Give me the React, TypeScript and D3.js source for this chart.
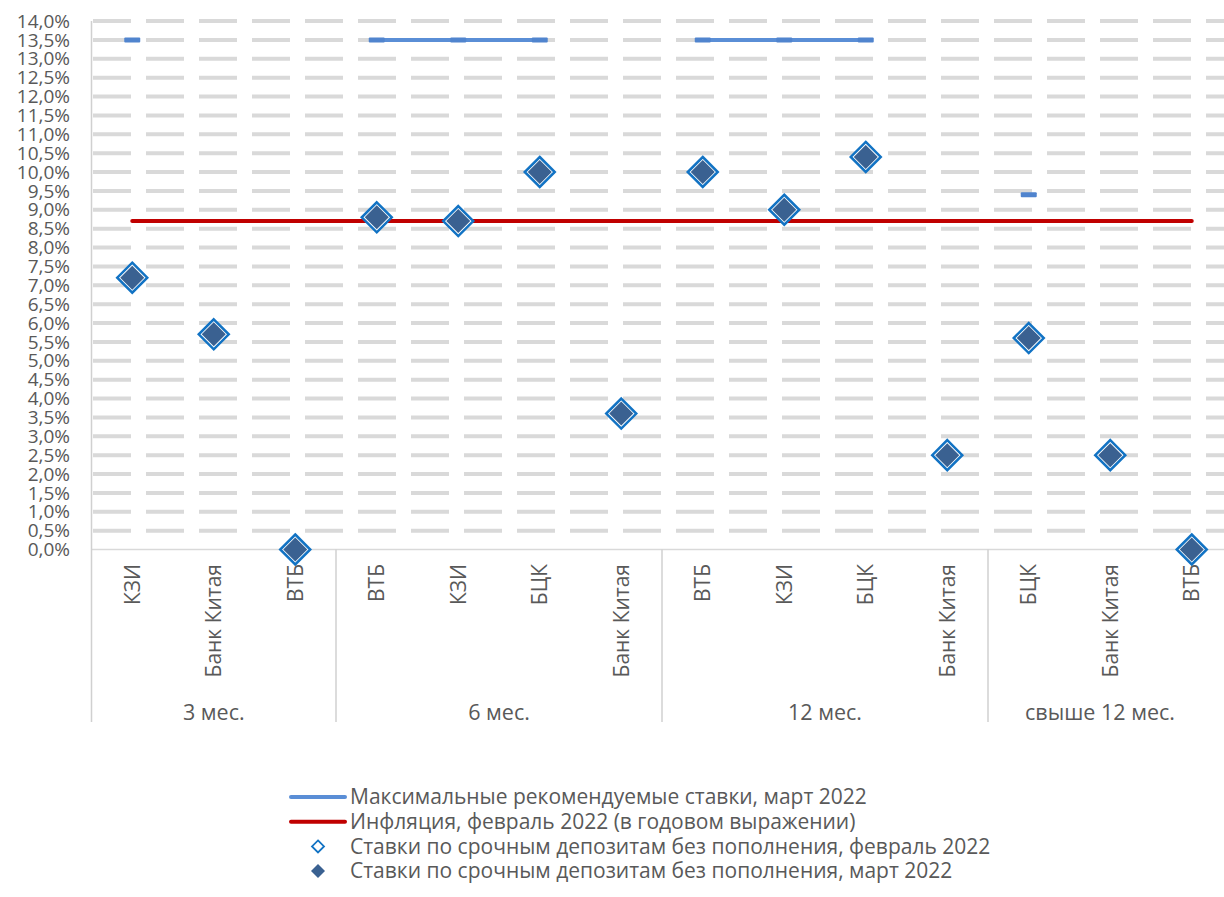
import { useEffect, useRef } from 'react';
import * as d3 from 'd3';

// terms (outer axis level)
const terms = ['3 мес.', '6 мес.', '12 мес.', 'свыше 12 мес.'];
const termSizes = [3, 4, 4, 3];

// banks (inner axis level), in chart order
const banks = [
  'КЗИ', 'Банк Китая', 'ВТБ',
  'ВТБ', 'КЗИ', 'БЦК', 'Банк Китая',
  'ВТБ', 'КЗИ', 'БЦК', 'Банк Китая',
  'БЦК', 'Банк Китая', 'ВТБ',
];

// series, %
const maxRates: (number | null)[] = [13.5, null, null, 13.5, 13.5, 13.5, null, 13.5, 13.5, 13.5, null, 9.4, null, null];
const inflation = [8.7, 8.7, 8.7, 8.7, 8.7, 8.7, 8.7, 8.7, 8.7, 8.7, 8.7, 8.7, 8.7, 8.7];
const febRates = [7.2, 5.7, 0, 8.8, 8.7, 10.0, 3.6, 10.0, 9.0, 10.4, 2.5, 5.6, 2.5, 0];
const marRates = [7.2, 5.7, 0, 8.8, 8.7, 10.0, 3.6, 10.0, 9.0, 10.4, 2.5, 5.6, 2.5, 0];

const yTicks = d3.range(0, 14.01, 0.5);

const legendItems = [
  { label: 'Максимальные рекомендуемые ставки, март 2022', kind: 'maxline' },
  { label: 'Инфляция, февраль 2022 (в годовом выражении)', kind: 'inflline' },
  { label: 'Ставки по срочным депозитам без пополнения, февраль 2022', kind: 'feb' },
  { label: 'Ставки по срочным депозитам без пополнения, март 2022', kind: 'mar' },
];

const W = 1224;
const H = 897;
const FONT = '"Open Sans", "Noto Sans", sans-serif';
const TEXT = '#595959';
const BLUE_LINE = '#5A8ED6';
const BLUE_MARK = '#5084CE';
const RED = '#C00000';
const DIAMOND_OUT = '#1273C4';
const DIAMOND_IN = '#3A6191';

const diamond = (cx: number, cy: number, r: number) =>
  `M${cx},${cy - r}L${cx + r},${cy}L${cx},${cy + r}L${cx - r},${cy}Z`;

const App = () => {
  const svgRef = useRef<SVGSVGElement>(null);

  useEffect(() => {
    if (!svgRef.current) return;
    const svg = d3.select(svgRef.current);
    svg.selectAll('*').remove();

    const idx = banks.map((_, i) => i);
    const x = d3.scaleBand<number>().domain(idx).range([91.5, 1232.5]);
    const cx = (i: number) => (x(i) as number) + x.bandwidth() / 2;
    const y = d3.scaleLinear().domain([0, 14]).range([549.5, 21]);
    const axisBottom = 722;

    // gridlines
    svg.append('g')
      .selectAll('line')
      .data(yTicks.filter(t => t > 0))
      .enter()
      .append('line')
      .attr('x1', 93)
      .attr('x2', W)
      .attr('y1', d => y(d))
      .attr('y2', d => y(d))
      .attr('stroke', '#D9D9D9')
      .attr('stroke-width', 4)
      .attr('stroke-dasharray', '38 15');

    // x axis baseline
    svg.append('line')
      .attr('x1', 91.5).attr('x2', W)
      .attr('y1', y(0)).attr('y2', y(0))
      .attr('stroke', '#D9D9D9').attr('stroke-width', 1.5);

    // group dividers (incl. left axis)
    const bounds = [0];
    termSizes.forEach((s, i) => bounds.push(bounds[i] + s));
    svg.append('g')
      .selectAll('line')
      .data(bounds.slice(0, -1))
      .enter()
      .append('line')
      .attr('x1', d => x(d) as number)
      .attr('x2', d => x(d) as number)
      .attr('y1', d => (d === 0 ? y(14) : y(0)))
      .attr('y2', axisBottom)
      .attr('stroke', '#D0D0D0')
      .attr('stroke-width', 1.5);

    // y tick labels
    svg.append('g')
      .selectAll('text')
      .data(yTicks)
      .enter()
      .append('text')
      .attr('x', 70)
      .attr('y', d => y(d))
      .attr('dy', '0.35em')
      .attr('text-anchor', 'end')
      .style('font-family', FONT)
      .style('font-size', '19px')
      .style('fill', TEXT)
      .text(d => d3.format('.1f')(d).replace('.', ',') + '%');

    // bank labels (rotated)
    svg.append('g')
      .selectAll('text')
      .data(banks)
      .enter()
      .append('text')
      .attr('transform', (_, i) => `translate(${cx(i)},564) rotate(-90)`)
      .attr('dy', '0.35em')
      .attr('text-anchor', 'end')
      .style('font-family', FONT)
      .style('font-size', '21px')
      .style('fill', TEXT)
      .text(d => d);

    // term labels (last group centred in the visible part)
    svg.append('g')
      .selectAll('text')
      .data(terms)
      .enter()
      .append('text')
      .attr('x', (_, i) => {
        const a = x(bounds[i]) as number;
        const b = i === terms.length - 1 ? W - 12 : (x(bounds[i + 1]) as number);
        return (a + b) / 2;
      })
      .attr('y', 712)
      .attr('dy', '0.35em')
      .attr('text-anchor', 'middle')
      .style('font-family', FONT)
      .style('font-size', '21.5px')
      .style('fill', TEXT)
      .text(d => d);

    // inflation line
    const line = d3.line<number>()
      .x((_, i) => cx(i))
      .y(d => y(d));
    svg.append('path')
      .attr('d', line(inflation))
      .attr('fill', 'none')
      .attr('stroke', RED)
      .attr('stroke-width', 4)
      .attr('stroke-linecap', 'round');

    // max recommended rates (line with gaps + dash markers)
    const gapLine = d3.line<number | null>()
      .defined(d => d !== null)
      .x((_, i) => cx(i))
      .y(d => y(d as number));
    svg.append('path')
      .attr('d', gapLine(maxRates))
      .attr('fill', 'none')
      .attr('stroke', BLUE_LINE)
      .attr('stroke-width', 4);
    svg.append('g')
      .selectAll('rect')
      .data(maxRates.map((v, i) => ({ v, i })).filter(d => d.v !== null))
      .enter()
      .append('rect')
      .attr('x', d => cx(d.i) - 8)
      .attr('y', d => y(d.v as number) - 2.5)
      .attr('width', 16)
      .attr('height', 5)
      .attr('rx', 1)
      .attr('fill', BLUE_MARK);

    // february (hollow) diamonds
    svg.append('g')
      .selectAll('path')
      .data(febRates)
      .enter()
      .append('path')
      .attr('d', (d, i) => diamond(cx(i), y(d), 15))
      .attr('fill', '#fff')
      .attr('stroke', DIAMOND_OUT)
      .attr('stroke-width', 2.5);

    // march (filled) diamonds
    svg.append('g')
      .selectAll('path')
      .data(marRates)
      .enter()
      .append('path')
      .attr('d', (d, i) => diamond(cx(i), y(d), 12))
      .attr('fill', DIAMOND_IN);

    // legend
    const lg = svg.append('g');
    legendItems.forEach((item, k) => {
      const ly = 797 + k * 24.7;
      if (item.kind === 'maxline' || item.kind === 'inflline') {
        lg.append('line')
          .attr('x1', 291).attr('x2', 345)
          .attr('y1', ly).attr('y2', ly)
          .attr('stroke', item.kind === 'maxline' ? BLUE_LINE : RED)
          .attr('stroke-width', 4)
          .attr('stroke-linecap', 'round');
      } else if (item.kind === 'feb') {
        lg.append('path')
          .attr('d', diamond(318, ly, 6))
          .attr('fill', '#fff')
          .attr('stroke', DIAMOND_OUT)
          .attr('stroke-width', 1.8);
      } else {
        lg.append('path')
          .attr('d', diamond(318, ly, 7))
          .attr('fill', DIAMOND_IN);
      }
      lg.append('text')
        .attr('x', 350)
        .attr('y', ly)
        .attr('dy', '0.35em')
        .style('font-family', FONT)
        .style('font-size', '21px')
        .style('fill', TEXT)
        .text(item.label);
    });
  }, []);

  return (
    <svg
      ref={svgRef}
      width={W}
      height={H}
      style={{ position: 'absolute', left: 0, top: 0, background: '#fff', display: 'block' }}
    />
  );
};

export default App;
